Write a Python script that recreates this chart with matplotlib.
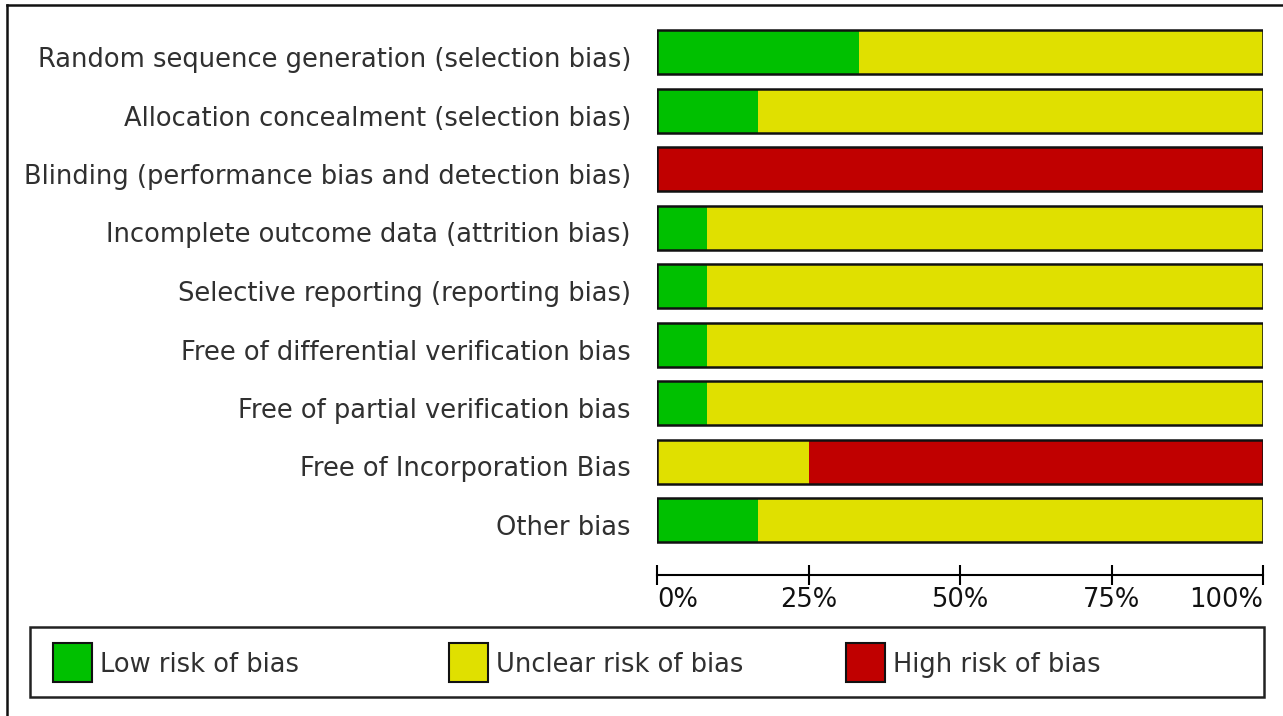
import numpy as np
import matplotlib
matplotlib.use("Agg")
import matplotlib.pyplot as plt
from matplotlib.patches import Rectangle
from matplotlib.lines import Line2D

# risk of bias summary (percent of studies)
domains = [
    "Random sequence generation (selection bias)",
    "Allocation concealment (selection bias)",
    "Blinding (performance bias and detection bias)",
    "Incomplete outcome data (attrition bias)",
    "Selective reporting (reporting bias)",
    "Free of differential verification bias",
    "Free of partial verification bias",
    "Free of Incorporation Bias",
    "Other bias",
]
low = [33.3, 16.7, 0, 8.3, 8.3, 8.3, 8.3, 0, 16.7]
unclear = [66.7, 83.3, 0, 91.7, 91.7, 91.7, 91.7, 25.0, 83.3]
high = [0, 0, 100, 0, 0, 0, 0, 75.0, 0]

tick_vals = [0, 25, 50, 75, 100]
tick_labels = ["0%", "25%", "50%", "75%", "100%"]

legend_names = ["Low risk of bias", "Unclear risk of bias", "High risk of bias"]
colors = ["#00c000", "#e0e000", "#c00000"]

W, H = 1283, 716
FS = 18.5
TXT = "#303030"

fig = plt.figure(figsize=(W / 100, H / 100), dpi=100)

def fx(px):
    return px / W

def fy(py):
    return 1 - py / H

# main bar axes
pitch = 58.5
top = 52 - pitch / 2
ax = fig.add_axes([fx(657), fy(top + pitch * 9), fx(1263) - fx(657), pitch * 9 / H])

y = np.arange(len(domains))
low_a = np.array(low)
unc_a = np.array(unclear)
high_a = np.array(high)
bh = 44 / pitch
ax.barh(y, low_a, height=bh, color=colors[0], linewidth=0)
ax.barh(y, unc_a, left=low_a, height=bh, color=colors[1], linewidth=0)
ax.barh(y, high_a, left=low_a + unc_a, height=bh, color=colors[2], linewidth=0)
ax.barh(y, low_a + unc_a + high_a, height=bh, fill=False, edgecolor="#111111", linewidth=1.8)

ax.set_xlim(0, 100)
ax.set_ylim(len(domains) - 0.5, -0.5)
ax.set_yticks([])
for s in ["top", "left", "right"]:
    ax.spines[s].set_visible(False)
ax.spines["bottom"].set_position(("outward", 26 * 0.72))
ax.spines["bottom"].set_linewidth(1.5)
ax.set_xticks(tick_vals)
ax.set_xticklabels(tick_labels, fontsize=FS, color="#111111")
ax.tick_params(axis="x", direction="inout", length=20 * 0.72, width=1.5, pad=1)
labs = ax.get_xticklabels()
labs[0].set_ha("left")
labs[-1].set_ha("right")
ax.patch.set_visible(False)

for i, name in enumerate(domains):
    ax.text(-26 / 606 * 100, i + 15 / pitch, name, ha="right", va="baseline",
            fontsize=FS, color=TXT, clip_on=False)

# legend box
lax = fig.add_axes([0, 0, 1, 1])
lax.set_xlim(0, W)
lax.set_ylim(H, 0)
lax.axis("off")
lax.patch.set_visible(False)
lax.add_patch(Rectangle((30, 627), 1234, 70, fill=False, edgecolor="#222222", linewidth=1.8))
for x0, name, c in zip([53, 449, 846], legend_names, colors):
    lax.add_patch(Rectangle((x0, 643), 39, 39, facecolor=c, edgecolor="#111111", linewidth=1.5))
    lax.text(x0 + 47, 672, name, ha="left", va="baseline", fontsize=FS, color=TXT)

# outer frame (top and left edges)
fig.add_artist(Line2D([fx(7), 1], [fy(5), fy(5)], color="#111111", linewidth=1.8))
fig.add_artist(Line2D([fx(7), fx(7)], [fy(5), 0], color="#111111", linewidth=1.8))

fig.savefig("out.png", dpi=100)
